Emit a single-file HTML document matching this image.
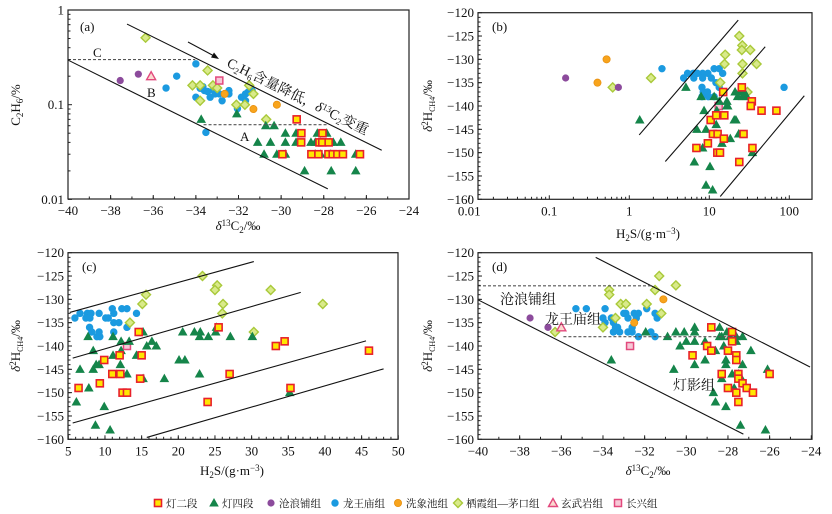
<!DOCTYPE html>
<html><head><meta charset="utf-8">
<style>
body{margin:0;background:#fff;}
svg{display:block;font-family:"Liberation Serif","Noto Serif CJK SC","Noto Sans CJK SC",serif;}
</style></head>
<body>
<svg id="chart" width="832" height="514" viewBox="0 0 832 514"></svg>
<script>
// ---------- Panel (a): δ13C2 (x) vs C2H6 % (y, log) ----------
const aD2 = [[-29.27,0.07],[-29.05,0.05],[-28.06,0.05],[-29.06,0.04],[-28.2,0.04],[-28.07,0.04],[-27.77,0.04],[-29.94,0.03],[-28.58,0.03],[-28.25,0.03],[-27.78,0.03],[-27.58,0.03],[-27.36,0.03],[-27.1,0.03],[-26.3,0.03]];
const aD4 = [[-33.75,0.07],[-32.08,0.08],[-30.72,0.06],[-30.33,0.06],[-29.8,0.05],[-29.3,0.05],[-28.3,0.05],[-27.86,0.05],[-31.1,0.04],[-30.5,0.04],[-29.8,0.04],[-29.3,0.04],[-28.6,0.04],[-28.4,0.04],[-28.17,0.04],[-27.7,0.04],[-27.55,0.04],[-27.2,0.04],[-30.8,0.03],[-30.2,0.03],[-29.8,0.03],[-28.4,0.03],[-28.14,0.03],[-27.67,0.03],[-26.5,0.03],[-28.9,0.02],[-27.65,0.02],[-26.5,0.02]];
const aCL = [[-37.55,0.18],[-36.7,0.21]];
const aLW = [[-34.0,0.27],[-34.9,0.2],[-35.4,0.15],[-34.0,0.12],[-33.8,0.149],[-33.6,0.141],[-33.45,0.138],[-33.33,0.12],[-33.1,0.13],[-32.9,0.13],[-32.45,0.141],[-32.77,0.11],[-31.86,0.12],[-31.67,0.13],[-31.55,0.136],[-31.36,0.141],[-31.67,0.11],[-32.05,0.091],[-33.53,0.051],[-33.67,0.155],[-33.17,0.143],[-32.45,0.13]];
const aXX = [[-32.65,0.13],[-31.3,0.09],[-30.2,0.1]];
const aQX = [[-36.36,0.51],[-34.16,0.16],[-33.8,0.16],[-33.45,0.23],[-33.2,0.16],[-33.0,0.15],[-33.8,0.11],[-31.5,0.16],[-31.3,0.13],[-32.1,0.1],[-31.7,0.1],[-30.7,0.07]];
const aXW = [[-36.1,0.2]];
const aCX = [[-32.9,0.18]];
const aLines = [[-37.23,0.71,-25.28,0.033],[-40,0.296,-27.81,0.0129]];
const aDash = [[-40,0.3,-34.03,0.3],[-33.64,0.0615,-27.78,0.0615]];
const aXTicks = [-40,-38,-36,-34,-32,-30,-28,-26,-24];
const aYTicks = [0.01,0.1,1];

// ---------- Panel (b): H2S (x, log) vs δ2H CH4 ----------
const bD2 = [[14.9,-137],[25.5,-136],[34,-139],[33,-140],[45,-141],[69,-141],[10.4,-143],[12.2,-142],[15.4,-142],[11.1,-146],[12.7,-146],[15.2,-147],[26.8,-146],[6.9,-149],[9.6,-148],[34.6,-149],[12.6,-150],[13.6,-150],[23.7,-152]];
const bD4 = [[5.1,-136],[7.9,-138],[11.5,-138],[13.3,-139],[16.6,-139],[16.5,-140],[17,-140],[8.6,-141],[12.4,-141],[21,-137],[23.7,-137],[27.4,-137],[22.6,-138],[26,-138],[29.5,-138],[9.1,-145],[12.2,-144],[20.5,-143],[21.5,-143],[23.3,-146],[18.3,-147],[14.4,-148],[8.25,-149],[6.5,-152],[10.2,-153],[9.1,-157],[11,-158],[34.6,-150],[7,-145],[1.35,-143]];
const bCL = [[0.16,-134],[0.73,-136]];
const bLW = [[4.78,-134],[5.35,-133],[6.3,-133],[7.1,-133],[8.25,-133],[9.6,-133],[11.5,-132],[13.3,-132],[14.7,-133],[6.4,-134],[8.25,-134],[10.6,-134],[12.1,-135],[13.3,-135],[8.1,-136],[8.4,-137],[9.5,-137],[9.7,-138],[11.5,-138],[8.1,-138],[13.3,-136],[86,-136],[2.56,-132]];
const bXX = [[0.52,-130],[0.40,-135]];
const bQX = [[23.7,-125],[25.9,-127],[25.5,-128],[32.5,-128],[15.8,-129],[15.5,-131],[26,-131],[39,-131],[26,-133],[13.7,-135],[30,-137],[0.62,-136],[1.87,-134]];
const bXW = [];
const bCX = [[13.1,-140]];
const bLines = [[1.33,-146.2,23,-121.6],[2.82,-151.9,50,-127.3],[13.7,-159.4,154,-137.8]];
const bXTicks = [0.01,0.1,1,10,100];
const bXTickLabels = ["0.01","0.1","1","10","100"];
const bYTicks = [-160,-155,-150,-145,-140,-135,-130,-125,-120];

// ---------- Panel (c): H2S (x, linear) vs δ2H CH4 ----------
const cD2 = [[14.6,-137],[25.5,-136],[9.9,-143],[12,-142],[15,-142],[6.4,-149],[9.3,-148],[11,-146],[12.1,-146],[14.8,-147],[12.4,-150],[13,-150],[24,-152],[27,-146],[33.3,-140],[34.5,-139],[35.3,-149],[46,-141]];
const cD4 = [[7.7,-138],[11.1,-138],[8.4,-141],[6.6,-145],[8.4,-145],[8.8,-144],[9.2,-144],[11.1,-142],[12.2,-141],[12.2,-139],[13.3,-139],[15.2,-137],[12.1,-144],[13,-146],[14.3,-142],[15.2,-147],[15.7,-140],[16.4,-139],[17,-140],[18.1,-147],[6.1,-152],[7.8,-149],[9.9,-153],[8.7,-157],[10.7,-158],[20.1,-143],[20.9,-143],[20.6,-137],[22.2,-137],[23,-137],[22.9,-138],[24.1,-138],[25.1,-137],[25.2,-136],[27.1,-138],[30.1,-138],[22.9,-146],[35.2,-150]];
const cLW = [[5.9,-134],[6.6,-133],[7.6,-133],[8.1,-133],[7.4,-134],[7.95,-134],[7.9,-136],[8.2,-137],[8.9,-138],[9.3,-138],[9.2,-137],[9.2,-133],[10.1,-134],[10.45,-134],[11,-132],[11.2,-133],[11.2,-135],[11.2,-137],[11.9,-135],[12.3,-132],[13,-132],[13,-136],[14.3,-133]];
const cQX = [[23.3,-125],[25.3,-127],[25,-128],[15.6,-129],[15.1,-131],[26.1,-131],[26,-133],[13.4,-135],[32.6,-128],[39.7,-131],[30.3,-137]];
const cCX = [[13,-140]];
const cLines = [[5.2,-132.8,30.3,-121.9],[5.6,-142.6,36.7,-128.5],[5.6,-156.5,45.6,-138.9],[15.7,-159.6,48,-144.9]];
const cXTicks = [5,10,15,20,25,30,35,40,45,50];
const cYTicks = [-160,-155,-150,-145,-140,-135,-130,-125,-120];

// ---------- Panel (d): δ13C2 (x) vs δ2H CH4 ----------
const dD2 = [[-28.8,-136],[-27.8,-137],[-27.8,-139],[-29,-140],[-28.8,-141],[-28.0,-141],[-29.7,-142],[-27.6,-142],[-27.6,-143],[-28.3,-146],[-27.5,-146],[-27.5,-147],[-27.3,-148],[-28.0,-149],[-27.1,-149],[-27.6,-150],[-26.8,-150],[-27.5,-152],[-26,-146]];
const dD4 = [[-33.6,-143],[-31.95,-137],[-30.9,-138],[-30.5,-137],[-30.1,-137],[-29.6,-136],[-29.6,-137],[-30,-139],[-29.6,-139],[-30.3,-140],[-30.6,-145],[-29.6,-144],[-29.1,-139],[-29.1,-143],[-28.4,-136],[-28.3,-138],[-28.2,-140],[-28.4,-138],[-28.6,-141],[-28.05,-137],[-28.1,-143],[-28.1,-144],[-27.9,-138],[-27.6,-138],[-27.3,-138],[-27.6,-139],[-27.8,-146],[-28.3,-147],[-27.5,-146],[-27.35,-147],[-27.7,-149],[-28.7,-150],[-28.6,-152],[-28.1,-153],[-27.4,-157],[-26.2,-158],[-26.9,-141],[-26.1,-145],[-27.3,-144]];
const dCL = [[-37.5,-134],[-36.64,-136]];
const dLW = [[-35.3,-132],[-34.8,-132],[-33.9,-132],[-34,-134],[-33.9,-135],[-33.6,-134],[-33.5,-135],[-33.4,-136],[-33.3,-136],[-33.2,-137],[-33.0,-133],[-32.9,-133],[-32.8,-134],[-32.8,-137],[-32.6,-136],[-32.6,-137],[-32.5,-133],[-32.3,-133],[-32.4,-134],[-32.3,-138],[-31.9,-132],[-31.7,-137],[-31.5,-133],[-31.4,-134],[-31.5,-138],[-33.5,-137]];
const dXX = [[-31.1,-130],[-32.5,-135]];
const dQX = [[-31.3,-125],[-30.5,-127],[-33.7,-128],[-33.7,-129],[-33.15,-131],[-32.9,-131],[-31.5,-128],[-31.9,-131],[-31.2,-133],[-33.4,-134],[-34.0,-136],[-36.3,-137]];
const dXW = [[-36,-136]];
const dCX = [[-32.7,-140]];
const dLines = [[-34.35,-121,-24.06,-144.5],[-40,-130.1,-27.26,-158.9]];
const dDash = [[-40,-127.1,-31.6,-127.1],[-35.9,-138,-27.4,-138]];
const dXTicks = [-40,-38,-36,-34,-32,-30,-28,-26,-24];
const dYTicks = [-160,-155,-150,-145,-140,-135,-130,-125,-120];

// legend
const legendLabels = ["灯二段","灯四段","沧浪铺组","龙王庙组","洗象池组","栖霞组—茅口组","玄武岩组","长兴组"];
const legendKinds = ["sq","tri","cl","lw","xx","qx","xw","cx"];

const NS="http://www.w3.org/2000/svg";
const svg=document.getElementById('chart');
function mk(tag,attrs,parent){const e=document.createElementNS(NS,tag);for(const k in attrs)e.setAttribute(k,attrs[k]);(parent||svg).appendChild(e);return e;}

function marker(kind,x,y,g){
  let e;
  if(kind==='sq'){e=mk('rect',{x:x-3.5,y:y-3.5,width:7,height:7,fill:'#ffe600',stroke:'#e8202a','stroke-width':1.6},g);}
  else if(kind==='tri'){e=mk('polygon',{points:`${x},${y-5} ${x-4.8},${y+3.5} ${x+4.8},${y+3.5}`,fill:'#15854a'},g);}
  else if(kind==='cl'){e=mk('circle',{cx:x,cy:y,r:3.6,fill:'#8c4b9c'},g);}
  else if(kind==='lw'){e=mk('circle',{cx:x,cy:y,r:3.7,fill:'#1b9ae0'},g);}
  else if(kind==='xx'){e=mk('circle',{cx:x,cy:y,r:3.6,fill:'#f8a41c',stroke:'#e89010','stroke-width':0.8},g);}
  else if(kind==='qx'){e=mk('polygon',{points:`${x},${y-4.5} ${x+4.5},${y} ${x},${y+4.5} ${x-4.5},${y}`,fill:'#d9ea8a',stroke:'#a9c93a','stroke-width':1.4},g);}
  else if(kind==='xw'){e=mk('polygon',{points:`${x},${y-4.5} ${x-4.5},${y+3.5} ${x+4.5},${y+3.5}`,fill:'#fbd9d0',stroke:'#e2497d','stroke-width':1.4},g);}
  else {e=mk('rect',{x:x-3.5,y:y-3.5,width:7,height:7,fill:'#f6c8d6',stroke:'#e2497d','stroke-width':1.5},g);}
  
  
  return e;
}

function panel(cfg){
  const g=mk('g',{});
  
  
  const {x0,x1,y0,y1,sx,sy}=cfg;
  cfg.series.forEach(s=>{
    const sg=mk('g',{},g);
    
    
    s[1].forEach(p=>marker(s[0],sx(p[0]),sy(p[1]),sg));
  });
  (cfg.lines||[]).forEach(l=>{
    const e=mk('line',{x1:sx(l[0]),y1:sy(l[1]),x2:sx(l[2]),y2:sy(l[3]),stroke:'#111','stroke-width':1.1},g);
    
    
  });
  (cfg.dash||[]).forEach(l=>{
    const e=mk('line',{x1:sx(l[0]),y1:sy(l[1]),x2:sx(l[2]),y2:sy(l[3]),stroke:'#555','stroke-width':1.1,'stroke-dasharray':'3,2'},g);
    
    
  });
  const fr=mk('rect',{x:x0,y:y0,width:x1-x0,height:y1-y0,fill:'none',stroke:'#222','stroke-width':1.2},g);
  
  
  cfg.xticks.forEach((t,i)=>{
    const x=sx(t);
    mk('line',{x1:x,y1:y1,x2:x,y2:y1-4,stroke:'#222'},g);
    const tx=mk('text',{x:x,y:y1+16,'font-size':13,'text-anchor':'middle',fill:'#111'},g);
    tx.textContent=cfg.xlabels?cfg.xlabels[i]:String(t).replace('-','−');
    
    
  });
  (cfg.xminor||[]).forEach(t=>{const x=sx(t);mk('line',{x1:x,y1:y1,x2:x,y2:y1-2.5,stroke:'#222'},g);});
  cfg.yticks.forEach((t,i)=>{
    const y=sy(t);
    mk('line',{x1:x0,y1:y,x2:x0+4,y2:y,stroke:'#222'},g);
    const tx=mk('text',{x:x0-4,y:y+4.5,'font-size':13,'text-anchor':'end',fill:'#111'},g);
    tx.textContent=cfg.ylabels?cfg.ylabels[i]:String(t).replace('-','−');
    
    
  });
  (cfg.yminor||[]).forEach(t=>{const y=sy(t);mk('line',{x1:x0,y1:y,x2:x0+2.5,y2:y,stroke:'#222'},g);});
  const lb=mk('text',{x:cfg.lab[0],y:cfg.lab[1],'font-size':13,fill:'#111'},g);
  lb.textContent=cfg.letter;
  
  
  return g;
}

function range(a,b,s){const r=[];for(let v=a;v<=b+1e-9;v+=s)r.push(+v.toFixed(4));return r;}
const logMinor=[];[0.01,0.1].forEach(d=>{for(let k=2;k<10;k++)logMinor.push(d*k);});
const bMinor=[];[0.01,0.1,1,10,100].forEach(d=>{for(let k=2;k<10;k++)bMinor.push(d*k);});

const asx=v=>68+(v+40)*(341/16), asy=v=>10+(-Math.log10(v))*94.7;
panel({name:'panel-a',x0:68,x1:409,y0:10,y1:199,sx:asx,sy:asy,letter:'(a)',lab:[80,31],
  series:[['lw',aLW],['qx',aQX],['cl',aCL],['xx',aXX],['xw',aXW],['cx',aCX],['tri',aD4],['sq',aD2]],
  lines:aLines,dash:aDash,xticks:aXTicks,xminor:range(-39,-25,1),yticks:aYTicks,ylabels:['0.01','0.1','1'],yminor:logMinor});
const bsx=v=>629.3+80*Math.log10(v), bsy=v=>12.7+(-120-v)*4.665;
panel({name:'panel-b',x0:478,x1:812,y0:12.7,y1:199.3,sx:bsx,sy:bsy,letter:'(b)',lab:[492,31],
  series:[['lw',bLW],['qx',bQX],['cl',bCL],['xx',bXX],['cx',bCX],['tri',bD4],['sq',bD2]],
  lines:bLines,xticks:bXTicks,xlabels:bXTickLabels,xminor:bMinor.filter(v=>bsx(v)>478&&bsx(v)<812),yticks:bYTicks,yminor:range(-159,-121,1)});
const csx=v=>68.3+(v-5)*7.333, csy=v=>252.7+(-120-v)*4.665;
panel({name:'panel-c',x0:68,x1:398,y0:252.7,y1:439.3,sx:csx,sy:csy,letter:'(c)',lab:[82,271],
  series:[['lw',cLW],['qx',cQX],['cx',cCX],['tri',cD4],['sq',cD2]],
  lines:cLines,xticks:cXTicks,xminor:range(6,49,1),yticks:cYTicks,yminor:range(-159,-121,1)});
const dsx=v=>478+(v+40)*20.83, dsy=v=>252.7+(-120-v)*4.665;
panel({name:'panel-d',x0:478,x1:812,y0:252.7,y1:439.3,sx:dsx,sy:dsy,letter:'(d)',lab:[492,271],
  series:[['lw',dLW],['qx',dQX],['cl',dCL],['xx',dXX],['xw',dXW],['cx',dCX],['tri',dD4],['sq',dD2]],
  lines:dLines,dash:dDash,xticks:dXTicks,xminor:range(-39,-25,1),yticks:dYTicks,yminor:range(-159,-121,1)});
</script>
<script>
(function(){
const svg=document.getElementById('chart');
const NS="http://www.w3.org/2000/svg";
function t(x,y,txt,name,extra){const e=document.createElementNS(NS,'text');e.setAttribute('x',x);e.setAttribute('y',y);e.setAttribute('font-size',(extra&&extra.fs)||13);e.setAttribute('fill','#111');if(extra&&extra.anchor)e.setAttribute('text-anchor',extra.anchor);if(extra&&extra.tr)e.setAttribute('transform',extra.tr);e.innerHTML=txt;


svg.appendChild(e);return e;}
t(93,57,'C','label-c');
t(147,97,'B','label-b');
t(240,141,'A','label-a');
const ar=document.createElementNS(NS,'line');ar.setAttribute('x1',188);ar.setAttribute('y1',42);ar.setAttribute('x2',216);ar.setAttribute('y2',57);ar.setAttribute('stroke','#111');ar.setAttribute('stroke-width',1);


svg.appendChild(ar);
const ah=document.createElementNS(NS,'polygon');ah.setAttribute('points','219,59 211,57.5 214,52.5');ah.setAttribute('fill','#111');


svg.appendChild(ah);
t(226,66,'C<tspan font-size="9" dy="3">2</tspan><tspan dy="-3">H</tspan><tspan font-size="9" dy="3">6</tspan><tspan dy="-3">含量降低，</tspan><tspan font-style="italic">δ</tspan><tspan font-size="9" dy="-4">13</tspan><tspan dy="4">C</tspan><tspan font-size="9" dy="3">2</tspan><tspan dy="-3">变重</tspan>','trend-annotation',{tr:'rotate(26.3 226 66)',fs:14});
t(500,304,'沧浪铺组','label-canglangpu',{fs:14});
t(545,324,'龙王庙组','label-longwangmiao',{fs:14});
t(673,390,'灯影组','label-dengying',{fs:14});
t(238,230,'<tspan font-style="italic">δ</tspan><tspan font-size="9" dy="-4">13</tspan><tspan dy="4">C</tspan><tspan font-size="9" dy="3">2</tspan><tspan dy="-3">/‰</tspan>','x-axis-title-a',{anchor:'middle'});
t(648,238,'H<tspan font-size="9" dy="3">2</tspan><tspan dy="-3">S/(g·m</tspan><tspan font-size="9" dy="-4">−3</tspan><tspan dy="4">)</tspan>','x-axis-title-b',{anchor:'middle'});
t(232,475,'H<tspan font-size="9" dy="3">2</tspan><tspan dy="-3">S/(g·m</tspan><tspan font-size="9" dy="-4">−3</tspan><tspan dy="4">)</tspan>','x-axis-title-c',{anchor:'middle'});
t(648,475,'<tspan font-style="italic">δ</tspan><tspan font-size="9" dy="-4">13</tspan><tspan dy="4">C</tspan><tspan font-size="9" dy="3">2</tspan><tspan dy="-3">/‰</tspan>','x-axis-title-d',{anchor:'middle'});
t(20,105,'C<tspan font-size="9" dy="3">2</tspan><tspan dy="-3">H</tspan><tspan font-size="9" dy="3">6</tspan><tspan dy="-3">/%</tspan>','y-axis-title-a',{anchor:'middle',tr:'rotate(-90 20 105)'});
const yt='<tspan font-style="italic">δ</tspan><tspan font-size="9" dy="-4">2</tspan><tspan dy="4">H</tspan><tspan font-size="8" dy="3">CH4</tspan><tspan dy="-3">/‰</tspan>';
t(432,106,yt,'y-axis-title-b',{anchor:'middle',tr:'rotate(-90 432 106)'});
t(20,346,yt,'y-axis-title-c',{anchor:'middle',tr:'rotate(-90 20 346)'});
t(432,346,yt,'y-axis-title-d',{anchor:'middle',tr:'rotate(-90 432 346)'});
})();
(function(){
const xs=[158,214,271,335,398,458,553,618];
const g=document.createElementNS("http://www.w3.org/2000/svg",'g');


svg.appendChild(g);
legendKinds.forEach((k,i)=>{
  marker(k,xs[i],503,g);
  const e=mk('text',{x:xs[i]+8,y:507,'font-size':10.5,fill:'#111'},g);
  e.textContent=legendLabels[i];
  
  
});
})();
</script>
</body></html>
